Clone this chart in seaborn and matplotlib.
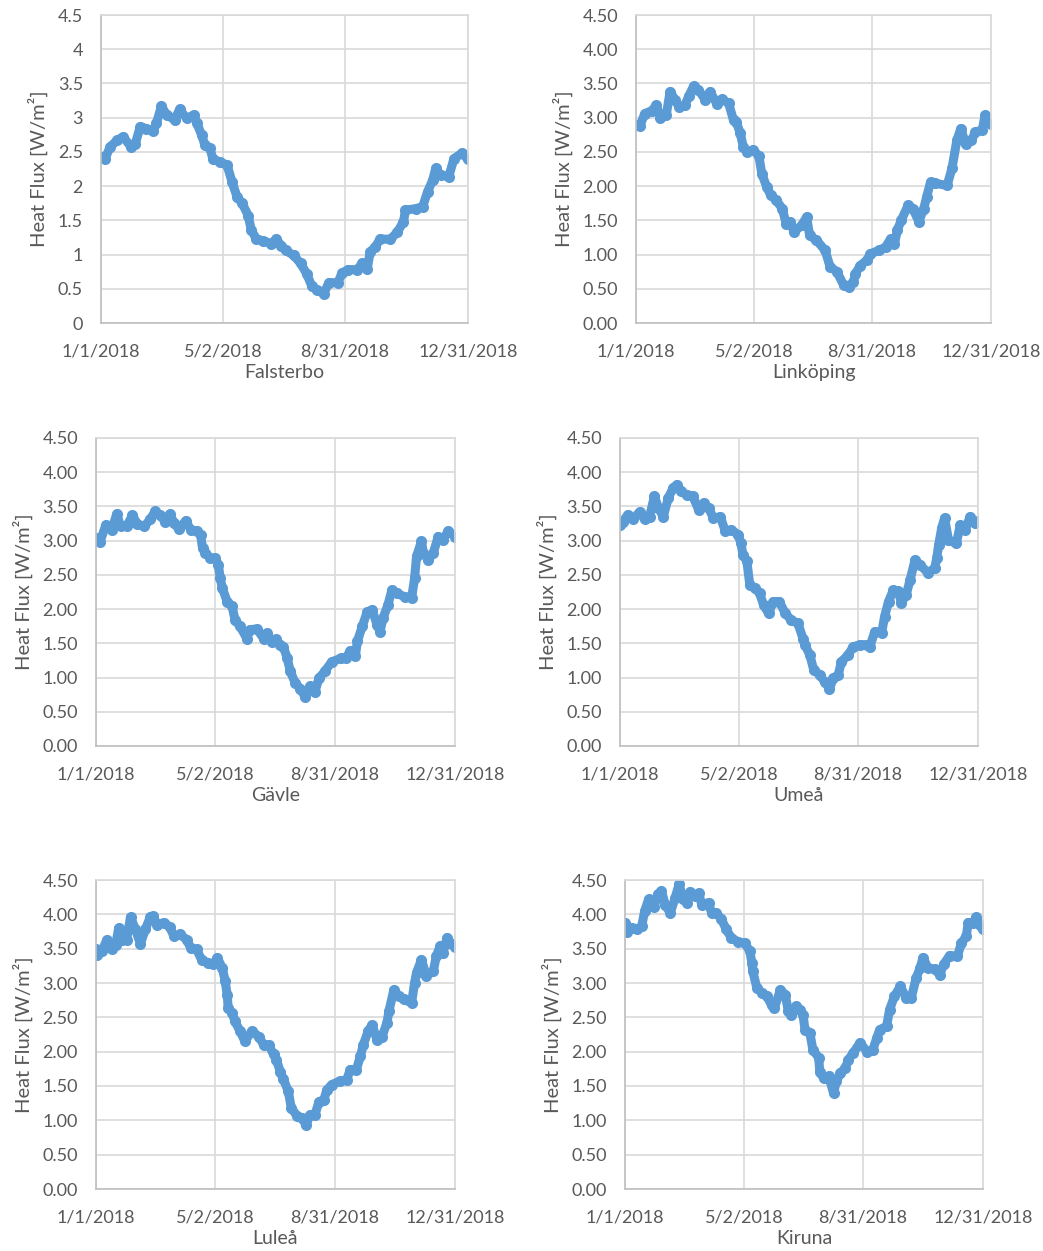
import numpy as np
import pandas as pd
import matplotlib
matplotlib.use("Agg")
import matplotlib.pyplot as plt
import seaborn as sns

# Daily heat flux 2018, values at key days (day 0 = 1/1/2018)
falsterbo_day = [0, 4, 9, 16, 22, 30, 34, 39, 45, 52, 55, 60, 65, 73, 78, 85, 92, 95, 100, 103,
                 108, 111, 118, 125, 130, 135, 140, 146, 149, 154, 161, 169, 174, 179, 183, 191, 198, 204, 209, 214,
                 221, 226, 235, 239, 245, 254, 259, 264, 267, 272, 277, 287, 294, 300, 302, 312, 319, 324, 329, 332,
                 337, 345, 350, 358, 364]
falsterbo_flux = [2.43, 2.40, 2.57, 2.67, 2.72, 2.57, 2.62, 2.87, 2.84, 2.81, 2.92, 3.17, 3.04, 2.97, 3.12, 2.99, 3.04, 2.92, 2.74, 2.60,
                  2.55, 2.40, 2.35, 2.31, 2.06, 1.84, 1.75, 1.57, 1.36, 1.23, 1.20, 1.16, 1.23, 1.12, 1.06, 0.99, 0.87, 0.72, 0.54, 0.48,
                  0.43, 0.59, 0.59, 0.73, 0.78, 0.78, 0.87, 0.79, 1.04, 1.11, 1.23, 1.22, 1.33, 1.48, 1.65, 1.67, 1.70, 1.92, 2.09, 2.26,
                  2.16, 2.14, 2.40, 2.48, 2.39]

linkoping_day = [0, 4, 9, 16, 21, 25, 31, 35, 40, 44, 50, 54, 59, 64, 71, 76, 83, 88, 95, 100,
                 103, 107, 110, 114, 120, 126, 129, 134, 138, 144, 150, 154, 158, 162, 170, 175, 178, 185, 194, 199,
                 206, 213, 218, 223, 225, 230, 237, 240, 249, 256, 261, 265, 268, 272, 279, 284, 290, 295, 298, 302,
                 307, 319, 324, 329, 333, 338, 344, 348, 355, 358, 364]
linkoping_flux = [2.89, 2.88, 3.06, 3.10, 3.18, 2.99, 3.04, 3.38, 3.26, 3.16, 3.18, 3.31, 3.46, 3.41, 3.26, 3.38, 3.20, 3.27, 3.21, 2.96,
                  2.93, 2.77, 2.57, 2.50, 2.53, 2.44, 2.18, 1.99, 1.87, 1.79, 1.67, 1.45, 1.48, 1.33, 1.43, 1.55, 1.28, 1.21, 1.06, 0.82,
                  0.75, 0.55, 0.53, 0.60, 0.72, 0.84, 0.92, 1.01, 1.06, 1.11, 1.23, 1.15, 1.36, 1.50, 1.72, 1.67, 1.48, 1.67, 1.84, 2.06,
                  2.04, 2.01, 2.26, 2.67, 2.84, 2.62, 2.67, 2.79, 2.82, 3.04, 2.91]

gavle_day = [0, 4, 10, 16, 21, 25, 31, 37, 42, 49, 55, 60, 65, 70, 75, 79, 84, 91, 96, 102,
             106, 108, 111, 116, 121, 124, 126, 128, 133, 138, 141, 146, 153, 156, 163, 170, 173, 178, 183, 187,
             190, 194, 197, 202, 207, 212, 217, 222, 226, 232, 239, 248, 253, 258, 263, 265, 270, 275, 280, 285,
             288, 291, 296, 300, 305, 313, 320, 323, 325, 330, 332, 337, 342, 347, 352, 357, 364]
gavle_flux = [3.04, 2.98, 3.23, 3.16, 3.39, 3.21, 3.21, 3.37, 3.24, 3.21, 3.31, 3.43, 3.37, 3.28, 3.39, 3.26, 3.17, 3.29, 3.16, 3.14,
              3.09, 2.89, 2.82, 2.75, 2.74, 2.65, 2.45, 2.31, 2.11, 2.04, 1.84, 1.75, 1.57, 1.70, 1.71, 1.57, 1.65, 1.52, 1.56, 1.47,
              1.45, 1.28, 1.09, 0.92, 0.84, 0.72, 0.87, 0.79, 0.99, 1.09, 1.23, 1.28, 1.28, 1.39, 1.31, 1.53, 1.75, 1.96, 1.99, 1.77,
              1.67, 1.87, 2.06, 2.28, 2.23, 2.18, 2.16, 2.45, 2.77, 2.99, 2.82, 2.72, 2.82, 3.06, 3.01, 3.14, 3.06]

umea_day = [0, 3, 8, 13, 20, 25, 30, 35, 39, 44, 49, 54, 58, 62, 68, 74, 80, 85, 90, 95,
            102, 107, 113, 120, 123, 125, 129, 132, 137, 142, 146, 151, 156, 162, 168, 174, 181, 186, 188, 193,
            197, 203, 208, 213, 217, 222, 225, 232, 237, 244, 251, 254, 259, 266, 269, 273, 278, 283, 286, 291,
            295, 300, 305, 313, 320, 322, 324, 327, 330, 334, 342, 346, 351, 356, 361, 364]
umea_flux = [3.23, 3.28, 3.38, 3.31, 3.42, 3.31, 3.35, 3.65, 3.48, 3.35, 3.62, 3.77, 3.82, 3.72, 3.67, 3.65, 3.45, 3.55, 3.48, 3.33,
             3.35, 3.14, 3.16, 3.09, 2.96, 2.79, 2.70, 2.35, 2.31, 2.23, 2.06, 1.94, 2.11, 2.11, 1.94, 1.84, 1.79, 1.57, 1.48, 1.33,
             1.11, 1.04, 0.94, 0.84, 0.99, 1.04, 1.23, 1.33, 1.45, 1.48, 1.48, 1.45, 1.67, 1.65, 1.89, 2.11, 2.28, 2.26, 2.09, 2.21,
             2.43, 2.72, 2.65, 2.53, 2.60, 2.74, 2.94, 3.18, 3.33, 3.01, 2.96, 3.23, 3.16, 3.35, 3.26, 3.29]

lulea_day = [0, 1, 6, 11, 16, 20, 23, 26, 31, 35, 40, 45, 50, 55, 58, 62, 69, 75, 79, 85,
             92, 96, 102, 107, 114, 119, 123, 128, 131, 133, 134, 138, 141, 146, 151, 158, 165, 170, 175, 180,
             183, 187, 190, 195, 198, 204, 209, 213, 217, 222, 226, 231, 234, 239, 247, 254, 258, 264, 268, 271,
             276, 280, 285, 290, 295, 297, 302, 307, 312, 320, 323, 325, 330, 335, 342, 345, 349, 352, 356, 359, 364]
lulea_flux = [3.49, 3.41, 3.46, 3.63, 3.49, 3.56, 3.80, 3.63, 3.63, 3.96, 3.78, 3.57, 3.78, 3.96, 3.97, 3.85, 3.88, 3.81, 3.68, 3.71,
              3.63, 3.51, 3.49, 3.34, 3.29, 3.27, 3.37, 3.22, 3.03, 2.83, 2.64, 2.56, 2.44, 2.30, 2.15, 2.30, 2.22, 2.10, 2.10, 1.96,
              1.88, 1.70, 1.60, 1.42, 1.18, 1.06, 1.03, 0.93, 1.08, 1.08, 1.27, 1.30, 1.44, 1.52, 1.57, 1.59, 1.74, 1.74, 1.93, 2.10,
              2.30, 2.39, 2.17, 2.22, 2.42, 2.59, 2.90, 2.81, 2.76, 2.71, 3.00, 3.15, 3.34, 3.10, 3.17, 3.39, 3.54, 3.44, 3.66, 3.58, 3.52]

kiruna_day = [0, 2, 7, 12, 17, 20, 24, 29, 34, 37, 41, 46, 51, 55, 59, 63, 66, 71, 75, 78,
              85, 88, 93, 98, 103, 108, 115, 122, 127, 129, 130, 134, 139, 144, 149, 152, 158, 163, 166, 169,
              174, 178, 181, 183, 188, 191, 197, 198, 202, 207, 212, 215, 219, 224, 227, 232, 239, 246, 252, 256,
              259, 266, 269, 274, 280, 286, 291, 296, 300, 303, 308, 315, 320, 324, 330, 338, 342, 347, 349, 354,
              357, 361, 364]
kiruna_flux = [3.88, 3.75, 3.80, 3.78, 3.83, 4.05, 4.22, 4.10, 4.29, 4.34, 4.14, 4.02, 4.24, 4.44, 4.22, 4.17, 4.33, 4.27, 4.31, 4.14,
               4.17, 4.02, 4.02, 3.93, 3.78, 3.66, 3.60, 3.58, 3.46, 3.29, 3.17, 2.93, 2.86, 2.81, 2.68, 2.64, 2.90, 2.83, 2.59, 2.54,
               2.66, 2.61, 2.54, 2.32, 2.27, 2.03, 1.91, 1.71, 1.61, 1.64, 1.40, 1.57, 1.69, 1.76, 1.88, 1.98, 2.13, 2.00, 2.03, 2.20,
               2.32, 2.37, 2.61, 2.81, 2.95, 2.78, 2.78, 3.07, 3.22, 3.37, 3.22, 3.20, 3.12, 3.27, 3.40, 3.39, 3.58, 3.68, 3.88, 3.88,
               3.96, 3.85, 3.78]

stations = ["Falsterbo", "Linköping", "Gävle", "Umeå", "Luleå", "Kiruna"]
station_days = [falsterbo_day, linkoping_day, gavle_day, umea_day, lulea_day, kiruna_day]
station_flux = [falsterbo_flux, linkoping_flux, gavle_flux, umea_flux, lulea_flux, kiruna_flux]

tick_dates = ["2018-01-01", "2018-05-02", "2018-08-31", "2018-12-31"]
tick_labels = ["1/1/2018", "5/2/2018", "8/31/2018", "12/31/2018"]
y_ticks = np.arange(0, 4.51, 0.5)

sns.set_style("white")
plt.rcParams["font.family"] = ["Lato", "DejaVu Sans"]

W, H = 1043, 1251
fig = plt.figure(figsize=(W / 100, H / 100), dpi=100)

# axes boxes in pixels: left, top, right, bottom
boxes = [(101, 15, 468, 323), (636, 15, 991, 323),
         (96, 438, 455, 746), (620, 438, 978, 746),
         (96, 880, 455, 1189), (625, 880, 983, 1189)]

blue = "#5B9BD5"
grid_c = "#D9D9D9"
text_c = "#595959"
start = pd.Timestamp("2018-01-01")

for i, (name, days, flux) in enumerate(zip(stations, station_days, station_flux)):
    l, t, r, b = boxes[i]
    ax = fig.add_axes([l / W, 1 - b / H, (r - l) / W, (b - t) / H])
    df = pd.DataFrame({"date": start + pd.to_timedelta(days, unit="D"), "flux": flux})
    sns.lineplot(data=df, x="date", y="flux", ax=ax, color=blue, linewidth=6.5,
                 marker="o", markersize=8, markeredgewidth=0, solid_capstyle="round",
                 solid_joinstyle="round")
    ax.set_xlim(pd.Timestamp(tick_dates[0]), pd.Timestamp(tick_dates[-1]))
    ax.set_ylim(0, 4.5)
    ax.set_xticks(pd.to_datetime(tick_dates))
    ax.set_xticklabels(tick_labels)
    ax.set_yticks(y_ticks)
    if i == 0:
        ax.set_yticklabels([f"{v:g}" for v in y_ticks])
    else:
        ax.set_yticklabels([f"{v:.2f}" for v in y_ticks])
    ax.grid(True, color=grid_c, linewidth=1.2)
    ax.set_axisbelow(True)
    for side in ["top", "right"]:
        ax.spines[side].set_color(grid_c)
        ax.spines[side].set_linewidth(1.2)
    for side in ["left", "bottom"]:
        ax.spines[side].set_color("#BFBFBF")
        ax.spines[side].set_linewidth(1.2)
    ax.tick_params(axis="both", length=0, labelsize=13, colors=text_c)
    ax.tick_params(axis="x", pad=15)
    ax.tick_params(axis="y", pad=13)
    ax.set_xlabel(name, fontsize=14, color=text_c, labelpad=3)
    ax.set_ylabel("Heat Flux [W/m²]", fontsize=14.5, color=text_c, labelpad=7)

fig.savefig("out.png", dpi=100)
